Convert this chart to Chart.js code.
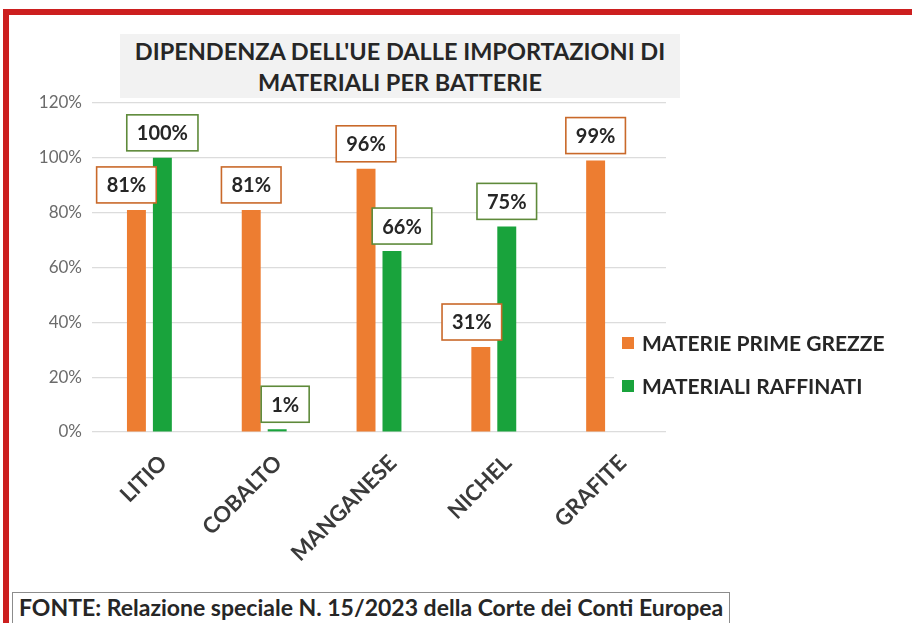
<!DOCTYPE html>
<html>
<head>
<meta charset="utf-8">
<script src="https://cdn.jsdelivr.net/npm/chart.js@4.4.1/dist/chart.umd.min.js"></script>
<style>
  html, body { margin: 0; padding: 0; background: #fff; }
  #wrap { position: relative; width: 912px; height: 623px; overflow: hidden; font-family: Lato, "Open Sans", sans-serif; }
  #frame { position: absolute; left: 3px; top: 9px; width: 960px; height: 700px;
           border-top: 6px solid #cc1f1f; border-left: 6px solid #cc1f1f; box-sizing: border-box; }
  #title { position: absolute; left: 120px; top: 34px; width: 560px; height: 64px; background: #f2f2f2;
           text-align: center; font-weight: bold; font-size: 23.5px; line-height: 31px; color: #262626; padding-top: 2px; box-sizing: border-box; }
  #chart { position: absolute; left: 0; top: 0; }
  #fonte { position: absolute; left: 12px; top: 592px; width: 718px; height: 36px; border: 1.5px solid #8c8c8c;
           box-sizing: border-box; font-weight: bold; font-size: 23px; color: #262626; padding: 0 0 0 6px; background: #fff; }
</style>
</head>
<body>
<div id="wrap">
  <div id="frame"></div>
  <canvas id="chart" width="912" height="623"></canvas>
  <div id="title">DIPENDENZA DELL'UE DALLE IMPORTAZIONI DI<br>MATERIALI PER BATTERIE</div>
  <div id="fonte">FONTE: Relazione speciale N. 15/2023 della Corte dei Conti Europea</div>
</div>
<script>
// dati
var categorie = ["LITIO", "COBALTO", "MANGANESE", "NICHEL", "GRAFITE"];
var materiePrime = [81, 81, 96, 31, 99];
var materialiRaffinati = [100, 1, 66, 75, null];
var tickY = [0, 20, 40, 60, 80, 100, 120];

// piccoli spostamenti orizzontali delle etichette (come nell'originale)
var spostaEtichette = [[-10, 0, 0, -9, 0], [0, 8, 10, 0, 0]];

var arancio = "#ed7d31";
var verde = "#19a33c";
var bordiEtichette = ["#c9692a", "#5e8a3a"];

// etichette dei valori in riquadri
var etichettePlugin = {
    id: "etichette",
    afterDatasetsDraw: function (chart) {
        var ctx = chart.ctx;
        ctx.save();
        ctx.font = "bold 20px Lato";
        ctx.textAlign = "center";
        ctx.textBaseline = "middle";
        chart.data.datasets.forEach(function (ds, di) {
            var meta = chart.getDatasetMeta(di);
            meta.data.forEach(function (bar, i) {
                var v = ds.data[i];
                if (v === null || v === undefined) return;
                var testo = v + "%";
                var w = ctx.measureText(testo).width + 20;
                var h = 36;
                var cx = bar.x + spostaEtichette[di][i];
                var bottom = bar.y - 7;
                ctx.fillStyle = "#fff";
                ctx.fillRect(cx - w / 2, bottom - h, w, h);
                ctx.strokeStyle = bordiEtichette[di];
                ctx.lineWidth = 1.6;
                ctx.strokeRect(cx - w / 2, bottom - h, w, h);
                ctx.fillStyle = "#262626";
                ctx.fillText(testo, cx, bottom - h / 2 + 1);
            });
        });
        ctx.restore();
    },
};

// legenda sulla destra
var legendaPlugin = {
    id: "legenda",
    afterDraw: function (chart) {
        var ctx = chart.ctx;
        ctx.save();
        ctx.fillStyle = "#fff";
        ctx.fillRect(614, 326, 290, 80);
        ctx.font = "bold 21px Lato";
        ctx.textBaseline = "middle";
        chart.data.datasets.forEach(function (ds, di) {
            var y = 343 + di * 43;
            ctx.fillStyle = ds.backgroundColor;
            ctx.fillRect(622, y - 6, 12, 12);
            ctx.fillStyle = "#262626";
            ctx.fillText(ds.label, 642, y + 1);
        });
        ctx.restore();
    },
};

var ctx = document.getElementById("chart").getContext("2d");

new Chart(ctx, {
    type: "bar",
    data: {
        labels: categorie,
        datasets: [
            {
                label: "MATERIE PRIME GREZZE",
                data: materiePrime,
                backgroundColor: arancio,
            },
            {
                label: "MATERIALI RAFFINATI",
                data: materialiRaffinati,
                backgroundColor: verde,
            },
        ],
    },
    options: {
        responsive: false,
        animation: false,
        layout: {
            padding: { left: 40, top: 103, right: 246, bottom: 41 },
        },
        categoryPercentage: 0.452,
        barPercentage: 0.73,
        plugins: {
            legend: { display: false },
            tooltip: { enabled: false },
        },
        scales: {
            x: {
                grid: { display: false },
                border: { display: false },
                ticks: {
                    minRotation: 45,
                    maxRotation: 45,
                    padding: 10,
                    labelOffset: 14,
                    color: "#3a3a3a",
                    font: { family: "Lato", size: 22, weight: "bold" },
                },
                afterFit: function (scale) { scale.height = 150; },
            },
            y: {
                min: 0,
                max: 120,
                afterBuildTicks: function (scale) {
                    scale.ticks = tickY.map(function (v) { return { value: v }; });
                },
                grid: { color: "#dcdcdc", lineWidth: 1.2, drawTicks: false },
                border: { display: false },
                ticks: {
                    padding: 10,
                    color: "#6b6b6b",
                    font: { family: "Lato", size: 17 },
                    callback: function (v) { return v + "%"; },
                },
                afterFit: function (scale) { scale.width = 52; },
            },
        },
    },
    plugins: [etichettePlugin, legendaPlugin],
});
</script>
</body>
</html>
